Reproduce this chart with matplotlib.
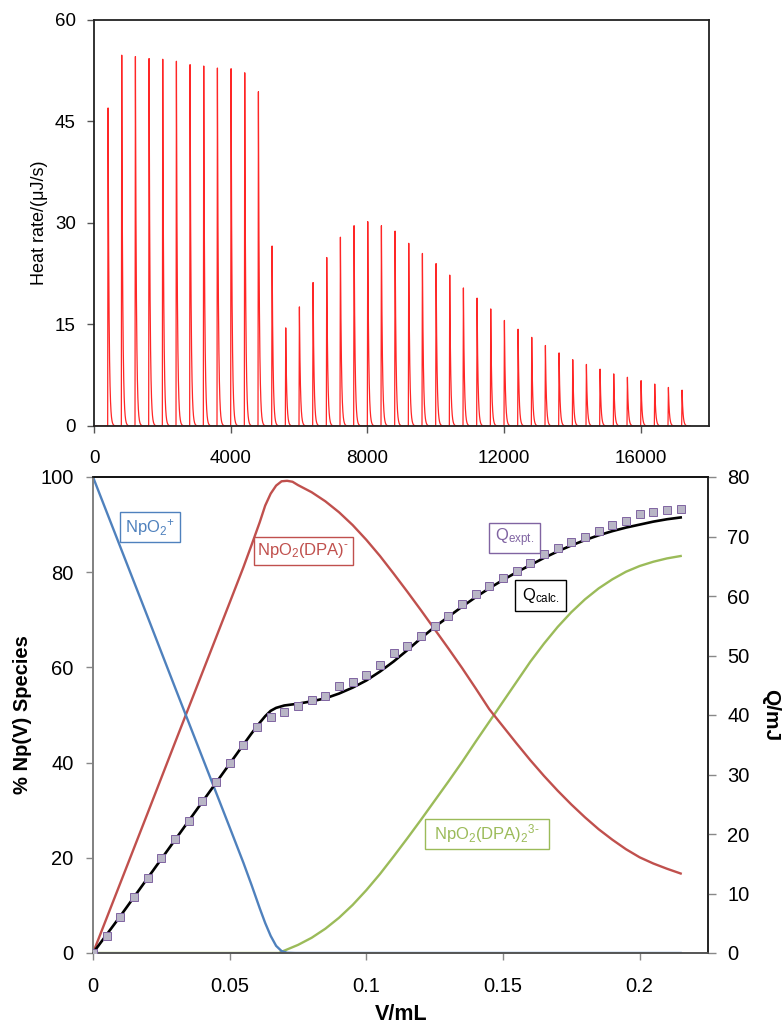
import numpy as np
import matplotlib
matplotlib.use('Agg')
import matplotlib.pyplot as plt

plt.rcParams['font.family'] = ['Liberation Sans', 'DejaVu Sans']
plt.rcParams['mathtext.fontset'] = 'custom'
plt.rcParams['mathtext.rm'] = 'Liberation Sans'
plt.rcParams['mathtext.it'] = 'Liberation Sans:italic'
plt.rcParams['mathtext.bf'] = 'Liberation Sans:bold'

# ---------------- data: thermogram (top) ----------------
injection_times = [400, 800, 1200, 1600, 2000, 2400, 2800, 3200, 3600, 4000,
                   4400, 4800, 5200, 5600, 6000, 6400, 6800, 7200, 7600, 8000,
                   8400, 8800, 9200, 9600, 10000, 10400, 10800, 11200, 11600, 12000,
                   12400, 12800, 13200, 13600, 14000, 14400, 14800, 15200, 15600, 16000,
                   16400, 16800, 17200]
peak_heights = [47.0, 54.8, 54.6, 54.3, 54.2, 53.9, 53.4, 53.2, 52.9, 52.8,
                52.2, 49.4, 26.6, 14.5, 17.6, 21.2, 24.9, 27.9, 29.6, 30.2,
                29.6, 28.8, 27.0, 25.5, 24.0, 22.3, 20.4, 18.9, 17.3, 15.6,
                14.3, 13.1, 11.9, 10.8, 9.8, 9.1, 8.4, 7.7, 7.2, 6.7,
                6.2, 5.7, 5.3]
top_xticks = [0, 4000, 8000, 12000, 16000]
top_yticks = [0, 15, 30, 45, 60]

# ---------------- data: speciation / heat (bottom) ----------------
V_blue = [0, 0.01, 0.02, 0.03, 0.04, 0.05, 0.055, 0.058, 0.061, 0.063, 0.065,
          0.067, 0.069, 0.071, 0.074, 0.215]
pct_NpO2 = [100, 85.3, 70.6, 55.8, 41.1, 26.4, 19.0, 14.3, 9.4, 6.3, 3.6,
            1.5, 0.4, 0.05, 0, 0]

V_red = [0, 0.01, 0.02, 0.03, 0.04, 0.05, 0.055, 0.058, 0.061, 0.063, 0.065,
         0.067, 0.069, 0.071, 0.073, 0.075, 0.08, 0.085, 0.09, 0.095, 0.1,
         0.105, 0.11, 0.115, 0.12, 0.125, 0.13, 0.135, 0.14, 0.145, 0.15,
         0.155, 0.16, 0.165, 0.17, 0.175, 0.18, 0.185, 0.19, 0.195, 0.2,
         0.205, 0.21, 0.215]
pct_NpO2DPA = [0, 14.7, 29.4, 44.2, 58.9, 73.6, 81.0, 85.7, 90.5, 94.0, 96.5,
               98.2, 99.1, 99.2, 99.0, 98.3, 96.8, 94.9, 92.6, 89.9, 86.8,
               83.4, 79.7, 75.9, 72.0, 68.0, 64.0, 59.9, 55.6, 51.2, 47.6,
               44.0, 40.5, 37.2, 34.1, 31.2, 28.5, 26.0, 23.8, 21.8, 20.1,
               18.8, 17.7, 16.7]

V_green = [0, 0.068, 0.07, 0.075, 0.08, 0.085, 0.09, 0.095, 0.1, 0.105,
           0.11, 0.115, 0.12, 0.125, 0.13, 0.135, 0.14, 0.145, 0.15, 0.155,
           0.16, 0.165, 0.17, 0.175, 0.18, 0.185, 0.19, 0.195, 0.2, 0.205,
           0.21, 0.215]
pct_NpO2DPA2 = [0, 0, 0.5, 1.7, 3.2, 5.1, 7.4, 10.1, 13.2, 16.6,
                20.3, 24.1, 28.0, 32.0, 36.0, 40.1, 44.4, 48.6, 52.8, 57.0,
                61.2, 65.0, 68.5, 71.6, 74.3, 76.6, 78.5, 80.1, 81.3, 82.2,
                82.9, 83.4]

V_expt = [0, 0.005, 0.01, 0.015, 0.02, 0.025, 0.03, 0.035, 0.04, 0.045,
          0.05, 0.055, 0.06, 0.065, 0.07, 0.075, 0.08, 0.085, 0.09, 0.095,
          0.1, 0.105, 0.11, 0.115, 0.12, 0.125, 0.13, 0.135, 0.14, 0.145,
          0.15, 0.155, 0.16, 0.165, 0.17, 0.175, 0.18, 0.185, 0.19, 0.195,
          0.2, 0.205, 0.21, 0.215]
Q_expt = [0.0, 2.9, 6.1, 9.4, 12.6, 15.9, 19.1, 22.2, 25.5, 28.7,
          31.9, 35.0, 38.0, 39.7, 40.5, 41.5, 42.6, 43.2, 44.9, 45.6,
          46.8, 48.4, 50.4, 51.6, 53.3, 55.0, 56.7, 58.6, 60.3, 61.6,
          63.0, 64.2, 65.5, 67.0, 68.0, 69.0, 70.0, 71.0, 72.0, 72.6,
          73.8, 74.1, 74.4, 74.7]

V_calc = [0, 0.01, 0.02, 0.03, 0.04, 0.05, 0.055, 0.058, 0.061, 0.063, 0.065,
          0.067, 0.07, 0.075, 0.08, 0.085, 0.09, 0.095, 0.1, 0.105, 0.11,
          0.115, 0.12, 0.125, 0.13, 0.135, 0.14, 0.145, 0.15, 0.155, 0.16,
          0.165, 0.17, 0.175, 0.18, 0.185, 0.19, 0.195, 0.2, 0.205, 0.21, 0.215]
Q_calc = [0, 6.2, 12.6, 19.0, 25.4, 31.8, 35.0, 36.9, 38.7, 39.8, 40.7,
          41.2, 41.6, 41.9, 42.3, 42.8, 43.6, 44.6, 45.8, 47.3, 49.0,
          50.9, 52.9, 54.8, 56.5, 58.2, 59.8, 61.3, 62.7, 64.0, 65.2,
          66.4, 67.5, 68.5, 69.4, 70.2, 70.9, 71.5, 72.0, 72.5, 72.9, 73.2]

bot_xticks = [0, 0.05, 0.1, 0.15, 0.2]
bot_xlabels = ['0', '0.05', '0.1', '0.15', '0.2']
left_yticks = [0, 20, 40, 60, 80, 100]
right_yticks = [0, 10, 20, 30, 40, 50, 60, 70, 80]

BLUE = '#4F81BD'
RED = '#C0504D'
GREEN = '#9BBB59'
PURPLE = '#8064A2'

W, H = 783, 1025
fig = plt.figure(figsize=(W / 100, H / 100), dpi=100)


def fr(l, t, r, b):
    return [l / W, 1 - b / H, (r - l) / W, (b - t) / H]


# ---------------- top panel ----------------
ax1 = fig.add_axes(fr(94, 20, 709, 426))
t = np.arange(0, 17450, 2.0)
heat = np.zeros_like(t)
for t0, h in zip(injection_times, peak_heights):
    dt = t - t0
    rise = (dt >= 0) & (dt < 12)
    heat[rise] += h * dt[rise] / 12
    dec = dt >= 12
    heat[dec] += h * np.exp(-(dt[dec] - 12) / 28.0)
ax1.plot(t, heat, color='#FF0000', lw=0.9, alpha=0.85)
ax1.set_xlim(0, 18000)
ax1.set_ylim(0, 60)
ax1.set_xticks(top_xticks)
ax1.set_yticks(top_yticks)
ax1.tick_params(direction='out', length=5, width=1, color='#555555',
                labelcolor='black', labelsize=13.5)
ax1.tick_params(axis='x', pad=12)
ax1.tick_params(axis='y', pad=8)
for s in ax1.spines.values():
    s.set_linewidth(1.3)
    s.set_color('#222222')
fig.text(40 / W, 1 - 223 / H, 'Heat rate/(\u03bcJ/s)', rotation=90,
         ha='center', va='center', fontsize=13)

# ---------------- bottom panel ----------------
ax = fig.add_axes(fr(93, 477, 708, 953))
ax2 = ax.twinx()
ax.plot(V_green, pct_NpO2DPA2, color=GREEN, lw=1.7)
ax.plot(V_red, pct_NpO2DPA, color=RED, lw=1.7)
ax.plot(V_blue, pct_NpO2, color=BLUE, lw=1.7)
ax.set_xlim(0, 0.225)
ax.set_ylim(0, 100)
ax.set_xticks(bot_xticks)
ax.set_xticklabels(bot_xlabels)
ax.set_yticks(left_yticks)
ax.tick_params(direction='out', length=5, width=1, color='#888888',
               labelcolor='black', labelsize=14.5)
ax.tick_params(axis='x', pad=12)
ax.tick_params(axis='y', pad=9)

ax2.plot(V_calc, Q_calc, color='black', lw=1.9, zorder=2)
ax2.plot(V_expt, Q_expt, ls='none', marker='s', ms=5.2, mfc='#B9B6C6',
         mec=PURPLE, mew=0.7, zorder=3)
ax2.set_ylim(0, 80)
ax2.set_yticks(right_yticks)
ax2.tick_params(direction='out', length=6, width=1, color='#888888',
                labelcolor='black', labelsize=14.5, pad=8)

for a in (ax, ax2):
    for s in a.spines.values():
        s.set_linewidth(1.2)
    a.spines['left'].set_color('#808080')
    a.spines['top'].set_color('#111111')
    a.spines['right'].set_color('#222222')
    a.spines['bottom'].set_color('#555555')

fig.text(23 / W, 1 - 715 / H, '% Np(V) Species', rotation=90, ha='center',
         va='center', fontsize=14.5, fontweight='bold')
fig.text(771 / W, 1 - 715 / H, 'Q/mJ', rotation=270, ha='center',
         va='center', fontsize=15, fontweight='bold')
fig.text(401 / W, 1 - 1015 / H, 'V/mL', ha='center', va='center',
         fontsize=15.5, fontweight='bold')


def label(x, y, s, color, w, h):
    fig.patches.append(plt.Rectangle(((x - w / 2) / W, 1 - (y + h / 2) / H),
                                     w / W, h / H, transform=fig.transFigure,
                                     fc='white', ec=color, lw=1.0,
                                     figure=fig, zorder=5))
    fig.text(x / W, 1 - y / H, s, color=color, ha='center', va='center',
             fontsize=12, zorder=6)


label(150, 527, r'NpO$_\mathregular{2}$$^\mathregular{+}$', BLUE, 60, 30)
label(303.5, 551, 'NpO$_\\mathregular{2}$(DPA)$^\\mathregular{\u2010}$', RED, 99, 28)
label(514.5, 538, r'Q$_\mathregular{expt.}$', PURPLE, 51, 30)
label(540.5, 595.5, r'Q$_\mathregular{calc.}$', 'black', 51, 31)
label(487, 834,
      'NpO$_\\mathregular{2}$(DPA)$_\\mathregular{2}$$^\\mathregular{3\u2010}$',
      GREEN, 124, 30)

fig.savefig('out.png', dpi=100)
